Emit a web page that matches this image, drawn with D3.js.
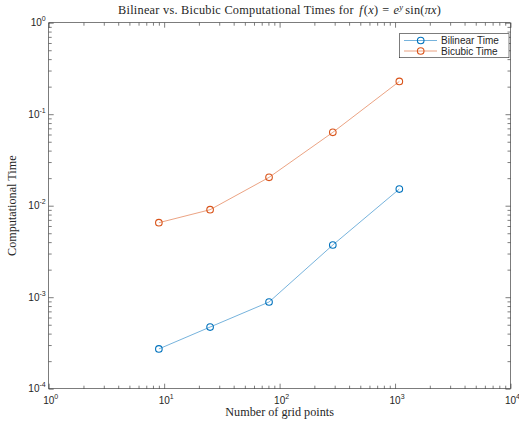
<!DOCTYPE html>
<html>
<head>
<meta charset="utf-8">
<script src="https://cdn.jsdelivr.net/npm/d3@7"></script>
<style>
  body { margin: 0; background: #fff; }
  svg { display: block; }
  .tick-label { font-family: "Liberation Sans", Arial, sans-serif; font-size: 10px; fill: #262626; }
  .serif { font-family: "Liberation Serif", "DejaVu Serif", serif; fill: #262626; }
</style>
</head>
<body>
<div id="chart"></div>
<script>
(function(d3) {
    "use strict";

    // data
    var gridPoints = [9, 25, 81, 289, 1089];
    var bilinearTime = [2.72e-4, 4.72e-4, 8.86e-4, 3.72e-3, 1.52e-2];
    var bicubicTime = [6.52e-3, 9.04e-3, 2.04e-2, 6.33e-2, 2.28e-1];
    var seriesNames = ["Bilinear Time", "Bicubic Time"];
    var xExponents = [0, 1, 2, 3, 4];
    var yExponents = [-4, -3, -2, -1, 0];

    var width = 519, height = 421;
    var left = 48.7, right = 510.5, top = 22.7, bottom = 388.7;
    var colors = ["#0072BD", "#D95319"];

    var x = d3.scaleLog().domain([1, 1e4]).range([left, right]);
    var y = d3.scaleLog().domain([1e-4, 1]).range([bottom, top]);

    var svg = d3.select("#chart").append("svg")
        .attr("width", width)
        .attr("height", height);

    var majorX = xExponents.map(function(e) { return Math.pow(10, e); });
    var majorY = yExponents.map(function(e) { return Math.pow(10, e); });
    var isMajor = function(v) { return Math.abs(Math.log10(v) - Math.round(Math.log10(v))) < 1e-9; };
    var minorX = x.ticks().filter(function(v) { return !isMajor(v); });
    var minorY = y.ticks().filter(function(v) { return !isMajor(v); });

    // axes with inward ticks on all four sides
    function drawAxis(axisFn, scale, values, len, transform) {
        var g = svg.append("g")
            .attr("transform", transform)
            .call(axisFn(scale).tickValues(values).tickSize(-len).tickSizeOuter(0).tickFormat(""));
        g.selectAll("path").attr("stroke", "none");
        g.selectAll("line").attr("stroke", "#262626").attr("stroke-width", 0.6);
        return g;
    }
    [[majorX, 5], [minorX, 3]].forEach(function(p) {
        drawAxis(d3.axisBottom, x, p[0], p[1], "translate(0," + bottom + ")");
        drawAxis(d3.axisTop, x, p[0], p[1], "translate(0," + top + ")");
    });
    [[majorY, 5], [minorY, 3]].forEach(function(p) {
        drawAxis(d3.axisLeft, y, p[0], p[1], "translate(" + left + ",0)");
        drawAxis(d3.axisRight, y, p[0], p[1], "translate(" + right + ",0)");
    });

    svg.append("rect")
        .attr("x", left).attr("y", top)
        .attr("width", right - left).attr("height", bottom - top)
        .attr("fill", "none")
        .attr("stroke", "#262626")
        .attr("stroke-width", 0.6);

    // tick labels 10^n
    function powerLabel(sel, e) {
        sel.append("tspan").text("10");
        sel.append("tspan").attr("dy", -5).attr("font-size", "7px").text(e);
    }
    xExponents.forEach(function(e) {
        var t = svg.append("text")
            .attr("class", "tick-label")
            .attr("x", x(Math.pow(10, e)) + 2)
            .attr("y", bottom + 15)
            .attr("text-anchor", "middle");
        powerLabel(t, e);
    });
    yExponents.forEach(function(e) {
        var t = svg.append("text")
            .attr("class", "tick-label")
            .attr("x", left - 3)
            .attr("y", y(Math.pow(10, e)) + 3.5)
            .attr("text-anchor", "end");
        powerLabel(t, e);
    });

    // lines and markers
    var line = d3.line()
        .x(function(d) { return x(d[0]); })
        .y(function(d) { return y(d[1]); });

    [bilinearTime, bicubicTime].forEach(function(vals, i) {
        var pts = gridPoints.map(function(g, j) { return [g, vals[j]]; });
        svg.append("path")
            .datum(pts)
            .attr("d", line)
            .attr("fill", "none")
            .attr("stroke", colors[i])
            .attr("stroke-opacity", 0.6)
            .attr("stroke-width", 0.9);
        svg.selectAll(".m" + i)
            .data(pts)
            .enter().append("circle")
            .attr("cx", function(d) { return x(d[0]); })
            .attr("cy", function(d) { return y(d[1]); })
            .attr("r", 3.3)
            .attr("fill", "none")
            .attr("stroke", colors[i])
            .attr("stroke-width", 1.1);
    });

    // title (TeX-ish)
    var title = svg.append("text")
        .attr("class", "serif")
        .attr("x", (left + right) / 2)
        .attr("y", 14)
        .attr("text-anchor", "middle")
        .attr("font-size", "12.3px")
        .attr("letter-spacing", "0.25px");
    title.append("tspan").text("Bilinear vs.  Bicubic Computational Times for ");
    title.append("tspan").attr("font-style", "italic").attr("dx", 2).text("f");
    title.append("tspan").attr("dx", 1).text("(");
    title.append("tspan").attr("font-style", "italic").text("x");
    title.append("tspan").text(")");
    title.append("tspan").attr("dx", 4).text("=");
    title.append("tspan").attr("font-style", "italic").attr("dx", 4).text("e");
    title.append("tspan").attr("font-style", "italic").attr("font-size", "8.5px").attr("dy", -4.5).text("y");
    title.append("tspan").attr("dy", 4.5).attr("dx", 2).text("sin(");
    title.append("tspan").attr("font-style", "italic").text("πx");
    title.append("tspan").text(")");

    // axis labels
    svg.append("text")
        .attr("class", "serif")
        .attr("x", (left + right) / 2)
        .attr("y", 416)
        .attr("text-anchor", "middle")
        .attr("font-size", "12.2px")
        .text("Number of grid points");

    svg.append("text")
        .attr("class", "serif")
        .attr("transform", "translate(16," + ((top + bottom) / 2) + ") rotate(-90)")
        .attr("text-anchor", "middle")
        .attr("font-size", "12.2px")
        .text("Computational Time");

    // legend
    var lg = svg.append("g");
    lg.append("rect")
        .attr("x", 399.5).attr("y", 33.7)
        .attr("width", 109.5).attr("height", 24)
        .attr("fill", "#fff")
        .attr("stroke", "#262626")
        .attr("stroke-width", 0.6);
    seriesNames.forEach(function(name, i) {
        var ly = 40.5 + i * 10.5;
        lg.append("line")
            .attr("x1", 404).attr("x2", 437)
            .attr("y1", ly).attr("y2", ly)
            .attr("stroke", colors[i])
            .attr("stroke-opacity", 0.6)
            .attr("stroke-width", 0.9);
        lg.append("circle")
            .attr("cx", 420.7).attr("cy", ly).attr("r", 3.3)
            .attr("fill", "none")
            .attr("stroke", colors[i])
            .attr("stroke-width", 1.1);
        lg.append("text")
            .attr("class", "tick-label")
            .attr("x", 441)
            .attr("y", ly + 3.5)
            .text(name);
    });

})(d3);
</script>
</body>
</html>
